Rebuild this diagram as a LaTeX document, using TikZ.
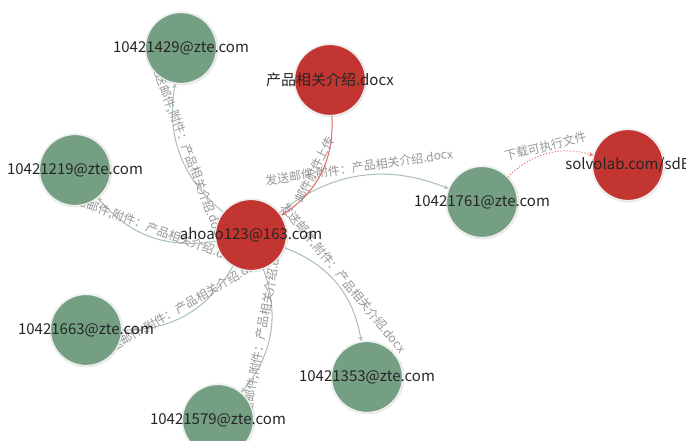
\documentclass[tikz,border=0pt]{standalone}
\usepackage{fontspec}
\setmainfont{Noto Sans CJK SC}
\usetikzlibrary{backgrounds,shadows}
\definecolor{mailgreen}{RGB}{116,159,131}
\definecolor{filered}{RGB}{194,53,49}
\definecolor{linkgreen}{RGB}{168,192,178}
\definecolor{linkred}{RGB}{226,100,100}
\definecolor{labelgray}{RGB}{150,150,150}
\newcommand{\mailnote}{发送邮件,附件：产品相关介绍.docx}
\begin{document}
\begin{tikzpicture}[x=1pt,y=1pt,>=stealth,
  mailnode/.style={circle,fill=mailgreen,draw=white!88!gray,line width=1.2pt,minimum size=71pt,inner sep=0pt,
    drop shadow={shadow xshift=0.4pt,shadow yshift=-0.4pt,shadow scale=1.04,opacity=.18}},
  filenode/.style={mailnode,fill=filered},
  addr/.style={label={[text=black!85,font=\fontsize{15}{17}\selectfont]center:#1}},
  sendline/.style={->,linkgreen,line width=1pt,bend left=30},
  sent/.style={sloped,above,inner sep=1.5pt,text=labelgray,font=\fontsize{12}{14}\selectfont}]
\useasboundingbox (0,0) rectangle (686,441);
\node[filenode,addr=ahoao123@163.com] (c) at (251,206) {};
\node[mailnode,addr=10421429@zte.com] (m1) at (181,393) {};
\node[filenode,addr=产品相关介绍.docx] (f1) at (330,361) {};
\node[mailnode,addr=10421219@zte.com] (m2) at (75,271) {};
\node[mailnode,addr=10421761@zte.com] (m3) at (482,239) {};
\node[filenode,addr=solvolab.com/sdB] (f2) at (628,276) {};
\node[mailnode,addr=10421663@zte.com] (m4) at (86,111) {};
\node[mailnode,addr=10421579@zte.com] (m5) at (218,21) {};
\node[mailnode,addr=10421353@zte.com] (m6) at (367,64) {};
\begin{scope}[on background layer]
\draw[sendline] (c) to node[sent] (s1) {\mailnote} (m1);
\draw[sendline] (c) to node[sent] (s2) {\mailnote} (m2);
\draw[sendline] (c) to node[sent] (s3) {\mailnote} (m3);
\draw[sendline] (c) to node[sent] (s4) {\mailnote} (m4);
\draw[sendline] (c) to node[sent] (s5) {\mailnote} (m5);
\draw[sendline] (c) to node[sent] (s6) {\mailnote} (m6);
\draw[sendline,linkred] (f1) to node[sent] (s7) {邮件附件上传} (c);
\draw[sendline,linkred,dotted] (m3) to node[sent] (s8) {下载可执行文件} (f2);
\end{scope}
\end{tikzpicture}
\end{document}
